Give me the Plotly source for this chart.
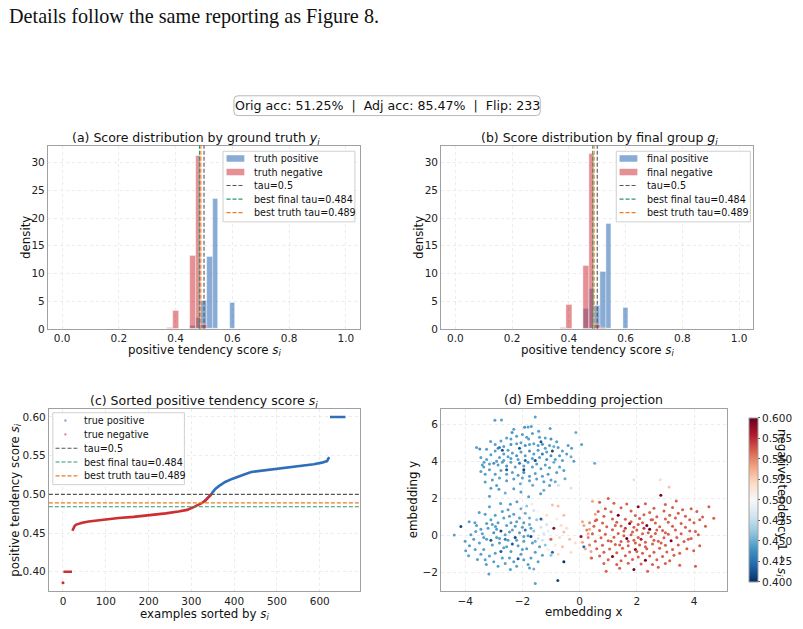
import plotly.graph_objects as go

W, H = 803, 629


def px(x):
    return x / W


def py(y):
    return 1 - y / H


# ------------------------------------------------------------------ data
header_text = "Details follow the same reporting as Figure 8."
summary_text = "Orig acc: 51.25%  |  Adj acc: 85.47%  |  Flip: 233"

hist_bin_width = 0.02
hist_centers = [0.38, 0.40, 0.46, 0.48, 0.50, 0.52, 0.54, 0.60]
truth_pos_density = [0.0, 0.0, 0.5, 2.0, 5.1, 13.0, 23.6, 4.7]
truth_neg_density = [0.15, 3.3, 13.3, 31.3, 0.8, 0.0, 0.0, 0.0]
final_pos_density = [0.0, 0.0, 3.6, 7.2, 4.2, 10.3, 19.1, 3.8]
final_neg_density = [0.2, 4.3, 11.5, 31.6, 0.7, 0.2, 0.0, 0.0]

tau_default = 0.5
tau_best_final = 0.484
tau_best_truth = 0.489

# sorted scores (panel c)
neg_point_idx = [0]
neg_point_s = [0.386]
neg_plateau_idx = [1, 21]
neg_plateau_s = [0.400, 0.400]
neg_curve_idx = [22, 24, 27, 31, 36, 45, 60, 80, 100, 130, 165, 200, 240, 270,
                 290, 303, 315, 325, 333, 340, 346]
neg_curve_s = [0.453, 0.456, 0.459, 0.461, 0.462, 0.4635, 0.465, 0.4665, 0.468,
               0.4695, 0.471, 0.473, 0.4755, 0.478, 0.480, 0.483, 0.486, 0.489,
               0.492, 0.496, 0.500]
pos_curve_idx = [330, 338, 345, 350, 356, 365, 379, 395, 410, 425, 440, 470, 500,
                 530, 560, 586, 605, 617, 622]
pos_curve_s = [0.491, 0.495, 0.499, 0.503, 0.507, 0.511, 0.516, 0.520, 0.5235,
               0.526, 0.529, 0.531, 0.533, 0.535, 0.537, 0.539, 0.541, 0.543, 0.548]
pos_plateau_idx = [624, 660]
pos_plateau_s = [0.600, 0.600]

# embedding projection (panel d): (x, y, negative tendency)
emb_upper = [
    (-2.96, 6.21, .445), (-2.73, 6.23, .445), (-1.55, 6.39, .445), (-1.69, 5.87, .445), (-1.92, 5.84, .44),
    (-1.80, 5.85, .445), (-2.30, 5.73, .445), (-2.36, 5.55, .44), (-1.43, 5.62, .445), (-0.13, 5.55, .45),
    (0.07, 4.91, .445), (-3.60, 4.75, .445), (-3.49, 4.66, .44), (-3.11, 5.07, .445), (-1.78, 5.20, .445),
    (-1.03, 5.77, .445), (-0.28, 4.70, .445), (0.53, 3.90, .45), (-0.51, 3.06, .45), (-0.74, 2.71, .48),
    (-0.30, 2.57, .48), (-3.34, 3.95, .445), (-3.30, 2.89, .445), (-3.15, 2.12, .445), (-2.82, 2.50, .445),
    (-2.30, 2.53, .445), (-2.07, 2.80, .45), (-1.64, 2.71, .45), (-1.36, 2.25, .445), (-1.78, 2.09, .445),
    (-2.85, 4.70, .44), (-2.80, 4.75, .43), (-2.65, 4.80, .445), (-2.50, 4.60, .445), (-2.40, 4.90, .44),
    (-2.20, 4.95, .445), (-2.05, 5.00, .445), (-1.90, 4.85, .44), (-1.75, 4.90, .445), (-1.60, 4.95, .445),
    (-1.45, 4.85, .445), (-1.30, 4.92, .44), (-1.20, 4.70, .445), (-1.05, 4.85, .445), (-0.90, 4.80, .45),
    (-0.75, 4.75, .445), (-0.60, 4.55, .445), (-0.45, 4.40, .445), (-0.30, 4.25, .45), (-0.60, 4.05, .445),
    (-0.85, 4.10, .445), (-1.00, 4.30, .44), (-1.15, 4.50, .445), (-1.30, 4.40, .43), (-1.45, 4.60, .445),
    (-1.60, 4.40, .445), (-1.75, 4.55, .44), (-1.90, 4.30, .445), (-2.05, 4.50, .445), (-2.20, 4.30, .44),
    (-2.35, 4.45, .445), (-2.50, 4.25, .445), (-2.65, 4.40, .445), (-2.80, 4.20, .445), (-2.95, 4.55, .445),
    (-3.10, 4.35, .445), (-3.25, 4.10, .445), (-3.00, 3.90, .44), (-2.85, 3.80, .445), (-2.70, 3.95, .445),
    (-2.55, 3.75, .44), (-2.40, 3.95, .445), (-2.25, 3.70, .445), (-2.10, 3.90, .43), (-1.95, 3.75, .445),
    (-1.80, 3.95, .445), (-1.65, 3.70, .445), (-1.50, 3.85, .445), (-1.35, 3.60, .445), (-1.20, 3.80, .445),
    (-1.05, 3.65, .445), (-0.90, 3.95, .45), (-0.70, 3.70, .445), (-0.55, 3.50, .445), (-0.80, 3.40, .445),
    (-1.10, 3.30, .445), (-1.30, 3.20, .445), (-1.55, 3.35, .445), (-1.75, 3.20, .445), (-1.95, 3.40, .44),
    (-2.15, 3.25, .445), (-2.35, 3.40, .445), (-2.55, 3.30, .445), (-2.75, 3.50, .445), (-2.95, 3.30, .445),
    (-3.15, 3.55, .445), (-3.35, 3.70, .445), (-3.30, 3.30, .445), (-3.05, 3.00, .445), (-2.80, 3.10, .445),
    (-2.55, 2.95, .445), (-2.30, 3.05, .445), (-2.00, 3.10, .445), (-1.75, 2.95, .445), (-1.50, 3.05, .445),
    (-1.25, 2.90, .445), (-1.00, 3.00, .445), (-1.15, 4.10, .44), (-1.40, 4.20, .445), (-1.65, 4.15, .445),
    (-1.90, 4.05, .42), (-2.15, 4.10, .445), (-2.40, 4.15, .445), (-2.65, 4.05, .445), (-2.90, 4.00, .445),
    (-3.15, 3.85, .445), (-2.55, 5.25, .445), (-2.40, 5.20, .445), (-2.20, 5.35, .445), (-2.00, 5.45, .445),
    (-1.85, 5.30, .445), (-1.65, 5.50, .445), (-1.40, 5.30, .445), (-1.20, 5.25, .445), (-1.00, 5.20, .44),
    (-0.80, 5.05, .445), (-2.75, 5.10, .445), (-2.95, 4.90, .445), (-3.25, 4.65, .445), (-3.45, 4.20, .445),
    (-3.40, 3.80, .445), (-3.45, 3.45, .445), (-2.70, 4.60, .415), (-2.10, 4.70, .415), (-1.35, 5.05, .415),
    (-0.95, 4.55, .41), (-1.95, 3.55, .41), (-2.55, 3.55, .415), (-1.55, 4.05, .41), (-0.70, 4.30, .445),
    (-0.40, 4.85, .445), (-0.20, 4.00, .445), (-1.05, 2.70, .445), (-2.90, 2.70, .445), (-3.10, 2.55, .445),
    (-2.60, 2.30, .45), (-2.05, 2.35, .445), (-1.25, 2.45, .45), (-0.85, 2.90, .45),
]
emb_lower = [
    (-4.38, 0.04, .445), (-4.15, 0.49, .41), (-3.86, 0.75, .445), (-3.66, 0.70, .445), (-3.98, -0.81, .445),
    (-3.88, -1.08, .445), (-3.57, -1.29, .445), (-3.17, -2.06, .445), (-3.26, -1.56, .445), (-2.42, -1.82, .445),
    (-1.55, -2.57, .445), (-3.51, 1.25, .445), (-3.30, 1.15, .445), (-2.76, 1.73, .445), (-2.42, 1.69, .445),
    (-2.19, 1.82, .445), (-1.67, 1.71, .49), (-3.63, 0.22, .445), (-2.94, 0.49, .445), (-1.75, -1.74, .445),
    (-3.50, -0.40, .445), (-3.40, 0.10, .445), (-3.35, -0.75, .445), (-3.25, -0.20, .445), (-3.20, 0.40, .445),
    (-3.15, -1.10, .445), (-3.10, 0.85, .445), (-3.05, -0.50, .445), (-3.00, 0.15, .44), (-2.95, -0.95, .445),
    (-2.90, -0.10, .445), (-2.85, 0.70, .445), (-2.80, -0.40, .445), (-2.75, 0.25, .41), (-2.70, -1.20, .445),
    (-2.65, -0.65, .445), (-2.60, 0.05, .445), (-2.55, 0.55, .445), (-2.50, -0.25, .445), (-2.45, 1.05, .445),
    (-2.40, -0.85, .445), (-2.35, 0.30, .445), (-2.30, -1.40, .445), (-2.25, -0.10, .41), (-2.20, 0.75, .445),
    (-2.15, -0.55, .445), (-2.10, 0.15, .445), (-2.05, -1.00, .445), (-2.00, 0.45, .445), (-1.95, -0.30, .445),
    (-1.90, 1.20, .45), (-1.85, -0.70, .445), (-1.80, 0.00, .445), (-1.75, 0.60, .45), (-1.70, -1.20, .445),
    (-1.65, -0.40, .445), (-1.60, 0.25, .46), (-1.55, -0.90, .445), (-1.50, 0.85, .46), (-1.45, -0.15, .48),
    (-1.40, -0.60, .445), (-1.35, 0.45, .48), (-1.30, -1.05, .445), (-1.25, 0.10, .48), (-3.70, -0.20, .445),
    (-3.60, 0.55, .445), (-3.45, -1.00, .445), (-3.30, -1.30, .445), (-3.00, -1.40, .445), (-2.85, -1.65, .445),
    (-2.60, -1.50, .445), (-2.45, -1.20, .445), (-2.20, -1.65, .445), (-1.95, -1.30, .445), (-1.80, -1.55, .445),
    (-1.60, -1.80, .45), (-2.70, 1.30, .445), (-2.95, 1.10, .445), (-3.15, 1.55, .445), (-2.50, 1.40, .445),
    (-2.30, 1.15, .445), (-2.05, 1.45, .45), (-1.85, 1.60, .46), (-1.60, 1.35, .48), (-2.65, 0.95, .445),
    (-2.40, 0.70, .445), (-2.10, 0.95, .445), (-1.95, 0.70, .445), (-3.25, 0.65, .445), (-3.45, 0.35, .445),
    (-3.80, 0.05, .445), (-4.00, -0.30, .445), (-3.85, -0.55, .445), (-3.65, -0.75, .445), (-2.75, -0.85, .415),
    (-2.35, -0.45, .415), (-1.90, 0.30, .43), (-2.60, -0.20, .43), (-3.10, -0.25, .415), (-2.15, -1.25, .415),
    (-1.70, -0.05, .41), (-1.45, -1.40, .445), (-1.20, -0.50, .46), (-1.15, 0.60, .48), (-1.05, -0.20, .49),
    (-1.00, -1.05, .46), (-2.90, 0.35, .445), (-2.55, -0.60, .445), (-2.25, 0.50, .445), (-2.00, -0.75, .445),
    (-1.75, 0.95, .45), (-3.35, -0.10, .445), (-3.05, 0.60, .445), (-2.80, -0.15, .445), (-2.45, 0.20, .445),
    (-2.20, -0.25, .445), (-1.95, -0.05, .445), (-1.70, 0.40, .445), (-1.55, -0.30, .45), (-1.30, -0.25, .48),
    (-1.10, 0.25, .49),
]
emb_mixed = [
    (-1.45, 1.30, .50), (-1.30, 0.85, .51), (-1.15, 1.10, .52), (-1.00, 0.70, .50), (-0.95, 1.65, .53),
    (-0.75, 1.60, .53), (-0.55, 1.10, .53), (-0.45, 0.40, .52), (-0.35, -0.20, .53), (-0.80, 0.90, .51),
    (-0.90, 0.40, .59), (-0.70, -0.10, .52), (-0.60, -0.60, .53), (-0.85, -0.50, .51), (-0.75, -1.00, .52),
    (-0.55, -1.40, .40), (-0.95, -0.90, .42), (-1.35, 0.90, .42), (-1.00, -0.20, .56), (-0.30, -0.90, .52),
    (-0.15, -0.40, .52), (0.05, -0.05, .59), (0.15, -0.60, .42), (0.10, 0.75, .54), (0.30, 0.10, .54),
    (0.40, -1.20, .54), (0.45, 1.85, .54), (-0.55, 0.20, .53), (-1.10, -0.75, .51), (-0.65, 0.55, .52),
    (-0.76, -2.41, .41),
]
emb_red = [
    (4.52, 1.55, .56), (4.69, 0.93, .56), (4.05, 0.22, .56), (3.99, -0.81, .56), (4.05, -1.65, .56),
    (2.82, 3.01, .52), (1.78, 3.99, .51), (1.90, 3.01, .52), (3.13, 2.62, .53), (2.84, 2.17, .595),
    (3.38, 1.87, .56), (1.00, 2.00, .56), (0.93, -1.91, .56), (1.90, -1.82, .595), (2.38, -1.91, .56),
    (0.42, -1.20, .56), (3.60, 1.40, .56), (4.10, 1.30, .56), (4.20, 0.85, .56), (3.80, -0.20, .56),
    (3.50, -1.60, .56), (2.75, -1.70, .56), (1.40, -1.75, .56), (0.70, 1.80, .56), (0.55, 0.80, .56),
    (0.35, 0.35, .54),
    (1.20, 1.75, .56), (1.65, 1.70, .56), (2.30, 1.72, .56), (3.00, 1.68, .56),
    (0.90, 1.45, .56), (1.45, 1.50, .56), (2.05, 1.55, .59), (2.60, 1.48, .56), (3.25, 1.52, .56), (3.90, 1.45, .56),
    (0.65, 1.30, .56), (1.10, 1.28, .56), (1.80, 1.32, .56), (2.45, 1.25, .56), (2.95, 1.33, .56), (3.45, 1.20, .56),
    (0.85, 1.05, .56), (1.35, 1.10, .60), (1.95, 1.08, .56), (2.25, 1.12, .56), (2.70, 1.02, .56), (3.15, 1.10, .56),
    (3.70, 1.05, .56), (4.30, 1.00, .56),
    (0.60, 0.85, .56), (1.15, 0.90, .56), (1.60, 0.88, .56), (2.10, 0.92, .56), (2.55, 0.85, .56), (3.00, 0.90, .56),
    (3.35, 0.95, .56), (3.85, 0.85, .56),
    (0.35, 0.70, .55), (0.80, 0.68, .56), (1.30, 0.72, .56), (1.75, 0.65, .595), (2.20, 0.70, .56), (2.65, 0.68, .56),
    (3.10, 0.72, .56), (3.55, 0.65, .56), (4.00, 0.70, .56),
    (0.50, 0.50, .56), (0.95, 0.48, .56), (1.45, 0.52, .56), (1.90, 0.45, .56), (2.35, 0.55, .595), (2.80, 0.48, .56),
    (3.25, 0.50, .56), (3.70, 0.45, .56), (4.40, 0.50, .56),
    (0.25, 0.30, .55), (0.70, 0.28, .56), (1.15, 0.32, .56), (1.55, 0.25, .56), (2.00, 0.30, .56), (2.45, 0.35, .60),
    (2.90, 0.28, .56), (3.35, 0.30, .56), (3.85, 0.25, .56),
    (0.45, 0.10, .56), (0.90, 0.08, .56), (1.35, 0.12, .56), (1.80, 0.05, .56), (2.20, 0.10, .56), (2.65, 0.12, .56),
    (3.10, 0.08, .56), (3.55, 0.10, .56), (4.15, 0.05, .56),
    (0.30, -0.10, .55), (0.75, -0.12, .56), (1.20, -0.08, .56), (1.65, -0.15, .60), (2.05, -0.10, .56),
    (2.50, -0.05, .56), (2.95, -0.12, .56), (3.40, -0.10, .56), (3.90, -0.15, .56),
    (0.55, -0.30, .56), (1.00, -0.28, .56), (1.45, -0.32, .56), (1.90, -0.25, .56), (2.30, -0.35, .56),
    (2.75, -0.30, .56), (3.20, -0.28, .595), (3.65, -0.32, .56),
    (0.35, -0.50, .55), (0.80, -0.52, .56), (1.25, -0.48, .56), (1.70, -0.55, .56), (2.10, -0.50, .56),
    (2.55, -0.45, .56), (3.00, -0.52, .56), (3.45, -0.50, .56), (4.20, -0.55, .56),
    (0.60, -0.70, .56), (1.05, -0.72, .56), (1.50, -0.68, .56), (1.95, -0.75, .59), (2.35, -0.70, .56),
    (2.80, -0.68, .56), (3.25, -0.75, .56), (3.75, -0.70, .56),
    (0.85, -0.90, .56), (1.30, -0.92, .56), (1.75, -0.88, .56), (2.20, -0.95, .56), (2.60, -0.90, .56),
    (3.05, -0.88, .56), (3.50, -0.95, .56),
    (0.70, -1.10, .56), (1.15, -1.12, .595), (1.60, -1.08, .56), (2.05, -1.15, .56), (2.45, -1.10, .56),
    (2.90, -1.12, .56), (3.30, -1.05, .56),
    (1.00, -1.30, .56), (1.45, -1.35, .56), (1.85, -1.28, .56), (2.30, -1.32, .595), (2.70, -1.30, .56),
    (3.15, -1.35, .56),
    (0.85, -1.50, .56), (1.30, -1.55, .56), (1.70, -1.48, .56), (2.15, -1.52, .56), (2.55, -1.55, .56),
    (3.00, -1.50, .56),
    (1.60, 0.40, .57), (1.85, 0.20, .56), (2.15, -0.20, .58), (2.40, 0.15, .56), (1.95, -0.40, .56),
    (2.25, 0.40, .57), (1.70, -0.30, .56), (2.60, -0.25, .56), (2.05, 0.60, .56), (1.40, -0.50, .56),
    (2.70, 0.30, .56), (1.55, 0.00, .56), (2.30, -0.60, .56), (1.80, 0.75, .56), (2.50, 0.85, .56),
    (1.25, 0.55, .56), (2.85, -0.40, .56), (1.10, -0.30, .56), (3.00, 0.15, .56), (2.00, -0.85, .56),
    (0.15, 0.55, .54), (0.20, -0.70, .54), (0.10, -0.35, .54), (0.55, 1.15, .54), (0.40, -0.85, .54),
]

cbar_ticks = [0.400, 0.425, 0.450, 0.475, 0.500, 0.525, 0.550, 0.575, 0.600]

# ------------------------------------------------------------------ styles
FONT = "DejaVu Sans"
BLUE_BAR = "rgba(38,104,178,0.55)"
RED_BAR = "rgba(206,52,62,0.55)"
BLUE_PT = "#2f6eb8"
RED_PT = "#cc2f2f"
GRAY_L = "#555555"
GREEN_L = "#2a9a68"
ORANGE_L = "#f07a1c"
DASH = "4px,2px"
RDBU_R = [
    [0.0, "#053061"], [0.1, "#2166ac"], [0.2, "#4393c3"], [0.3, "#92c5de"],
    [0.4, "#d1e5f0"], [0.5, "#f7f7f7"], [0.6, "#fddbc7"], [0.7, "#f4a582"],
    [0.8, "#d6604d"], [0.9, "#b2182b"], [1.0, "#67001f"],
]

fig = go.Figure()

# ------------------------------------------------------------------ panels a, b
for (pos, neg, xa, ya) in [(truth_pos_density, truth_neg_density, "x", "y"),
                           (final_pos_density, final_neg_density, "x2", "y2")]:
    fig.add_trace(go.Bar(x=hist_centers, y=pos, width=hist_bin_width,
                         marker=dict(color=BLUE_BAR, line=dict(color="white", width=0.4)),
                         xaxis=xa, yaxis=ya, showlegend=False))
    fig.add_trace(go.Bar(x=hist_centers, y=neg, width=hist_bin_width,
                         marker=dict(color=RED_BAR, line=dict(color="white", width=0.4)),
                         xaxis=xa, yaxis=ya, showlegend=False))

shapes = []
for xa in ["x", "x2"]:
    for tau, col in [(tau_default, GRAY_L), (tau_best_final, GREEN_L), (tau_best_truth, ORANGE_L)]:
        shapes.append(dict(type="line", xref=xa, yref=xa.replace("x", "y") + " domain",
                           x0=tau, x1=tau, y0=0, y1=1,
                           line=dict(color=col, width=1.1, dash=DASH)))

# ------------------------------------------------------------------ panel c
for tau, col in [(tau_default, GRAY_L), (tau_best_final, GREEN_L), (tau_best_truth, ORANGE_L)]:
    shapes.append(dict(type="line", xref="x3 domain", yref="y3", x0=0, x1=1, y0=tau, y1=tau,
                       line=dict(color=col, width=1.1, dash=DASH)))

fig.add_trace(go.Scatter(x=neg_point_idx, y=neg_point_s, mode="markers",
                         marker=dict(color=RED_PT, size=3), xaxis="x3", yaxis="y3", showlegend=False))
for xs, ys, col in [(neg_plateau_idx, neg_plateau_s, RED_PT), (pos_curve_idx, pos_curve_s, BLUE_PT),
                    (neg_curve_idx, neg_curve_s, RED_PT), (pos_plateau_idx, pos_plateau_s, BLUE_PT)]:
    fig.add_trace(go.Scatter(x=xs, y=ys, mode="lines", line=dict(color=col, width=2.6),
                             xaxis="x3", yaxis="y3", showlegend=False))

# ------------------------------------------------------------------ panel d
emb_all = emb_upper + emb_lower + emb_mixed + emb_red
fig.add_trace(go.Scatter(
    x=[p[0] for p in emb_all], y=[p[1] for p in emb_all], mode="markers",
    marker=dict(size=3.0, color=[p[2] for p in emb_all], colorscale=RDBU_R, cmin=0.4, cmax=0.6,
                opacity=1.0, line=dict(width=0),
                colorbar=dict(thickness=9, thicknessmode="pixels", len=184, lenmode="pixels",
                              x=px(745), xanchor="left", y=py(504.7), yanchor="middle",
                              outlinecolor="#a0a0a0", outlinewidth=1,
                              tickvals=cbar_ticks, tickformat=".3f", ticks="outside", ticklen=2,
                              tickcolor="#555", tickfont=dict(size=10.5, color="#222", family=FONT))),
    xaxis="x4", yaxis="y4", showlegend=False))

# ------------------------------------------------------------------ axes
axis_common = dict(showline=True, mirror=True, linecolor="#a0a0a0", linewidth=1,
                   showgrid=True, gridcolor="#ececec", griddash="dot", gridwidth=0.8,
                   ticks="", zeroline=False,
                   tickfont=dict(size=10.5, color="#222", family=FONT))

A_X, A_Y = [48.3, 363.3], [147, 332]
B_X = [445, 760]
C_X, C_Y = [49.3, 362.7], [412.7, 596.7]
D_X = [445, 733.3]


def dom_x(p):
    return [px(p[0]), px(p[1])]


def dom_y(p):
    return [py(p[1]), py(p[0])]


layout = dict(
    width=W, height=H, margin=dict(l=0, r=0, t=0, b=0),
    paper_bgcolor="white", plot_bgcolor="white", barmode="overlay", bargap=0,
    font=dict(family=FONT, color="#222"), showlegend=False,
    xaxis=dict(domain=dom_x(A_X), anchor="y", range=[-0.05, 1.05], tickvals=[0, .2, .4, .6, .8, 1],
               tickformat=".1f", **axis_common),
    yaxis=dict(domain=dom_y(A_Y), anchor="x", range=[0, 33.1], tickvals=[0, 5, 10, 15, 20, 25, 30],
               **axis_common),
    xaxis2=dict(domain=dom_x(B_X), anchor="y2", range=[-0.05, 1.05], tickvals=[0, .2, .4, .6, .8, 1],
                tickformat=".1f", **axis_common),
    yaxis2=dict(domain=dom_y(A_Y), anchor="x2", range=[0, 33.1], tickvals=[0, 5, 10, 15, 20, 25, 30],
                **axis_common),
    xaxis3=dict(domain=dom_x(C_X), anchor="y3", range=[-33, 693], tickvals=[0, 100, 200, 300, 400, 500, 600],
                **axis_common),
    yaxis3=dict(domain=dom_y(C_Y), anchor="x3", range=[0.3752, 0.6106],
                tickvals=[0.40, 0.45, 0.50, 0.55, 0.60], tickformat=".2f", **axis_common),
    xaxis4=dict(domain=dom_x(D_X), anchor="y4", range=[-4.84, 5.15], tickvals=[-4, -2, 0, 2, 4],
                **axis_common),
    yaxis4=dict(domain=dom_y(C_Y), anchor="x4", range=[-2.98, 6.83], tickvals=[-2, 0, 2, 4, 6],
                **axis_common),
)

# ------------------------------------------------------------------ text
ann = []


def text(x, y, s, size, xanchor="center", yanchor="middle", angle=0, family=FONT, **kw):
    ann.append(dict(x=px(x), y=py(y), xref="paper", yref="paper", text=s, showarrow=False,
                    xanchor=xanchor, yanchor=yanchor, textangle=angle,
                    font=dict(size=size, family=family, color="#111"), **kw))


def rounded_box(x0, y0, x1, y1, r):
    rx, ry = r / W, r / H
    X0, X1, Y0, Y1 = px(x0), px(x1), py(y1), py(y0)
    path = (f"M {X0 + rx},{Y0} L {X1 - rx},{Y0} Q {X1},{Y0} {X1},{Y0 + ry} "
            f"L {X1},{Y1 - ry} Q {X1},{Y1} {X1 - rx},{Y1} L {X0 + rx},{Y1} "
            f"Q {X0},{Y1} {X0},{Y1 - ry} L {X0},{Y0 + ry} Q {X0},{Y0} {X0 + rx},{Y0} Z")
    return dict(type="path", xref="paper", yref="paper", path=path, fillcolor="white",
                line=dict(color="#b8b8b8", width=1), layer="above")


text(7, 16.5, header_text, 20.2, xanchor="left", family="Liberation Serif")
shapes.append(rounded_box(236, 96.7, 545, 116.7, 4))
text(391, 106.7, summary_text, 12.6)

si = "<i>s</i><sub><i>i</i></sub>"
text(198, 140, "(a) Score distribution by ground truth <i>y</i><sub><i>i</i></sub>", 12.5)
text(605, 140, "(b) Score distribution by final group <i>g</i><sub><i>i</i></sub>", 12.5)
text(206, 405, "(c) Sorted positive tendency score " + si, 12.5)
text(589, 403, "(d) Embedding projection", 12.5)

text(205.8, 354, "positive tendency score " + si, 11.8)
text(602.5, 354, "positive tendency score " + si, 11.8)
text(26, 239.5, "density", 11.8, angle=-90)
text(422.5, 239.5, "density", 11.8, angle=-90)
text(206, 620, "examples sorted by " + si, 11.8)
text(16, 504.7, "positive tendency score " + si, 11.8, angle=-90)
text(589, 618, "embedding x", 11.8)
text(417, 504.7, "embedding y", 11.8, angle=-90)
text(789, 508, "negative tendency 1 − " + si, 11.8, angle=90)


# ------------------------------------------------------------------ legends (drawn)
def legend(box, hx0, hx1, tx, rows, entries):
    shapes.append(dict(type="rect", xref="paper", yref="paper", x0=px(box[0]), x1=px(box[2]),
                       y0=py(box[3]), y1=py(box[1]), fillcolor="rgba(255,255,255,0.85)",
                       line=dict(color="#d0d0d0", width=1), layer="above"))
    for ry, (kind, col, label) in zip(rows, entries):
        if kind == "patch":
            shapes.append(dict(type="rect", xref="paper", yref="paper", x0=px(hx0), x1=px(hx1),
                               y0=py(ry + 3.3), y1=py(ry - 3.3), fillcolor=col, line=dict(width=0),
                               layer="above"))
        elif kind == "dash":
            shapes.append(dict(type="line", xref="paper", yref="paper", x0=px(hx0), x1=px(hx1),
                               y0=py(ry), y1=py(ry), line=dict(color=col, width=1.1, dash=DASH),
                               layer="above"))
        else:
            cx = (hx0 + hx1) / 2 - 1
            shapes.append(dict(type="circle", xref="paper", yref="paper", x0=px(cx - 1.2), x1=px(cx + 1.2),
                               y0=py(ry + 1.2), y1=py(ry - 1.2), fillcolor=col, line=dict(width=0),
                               opacity=0.6, layer="above"))
        text(tx, ry, label, 9.6, xanchor="left")


rows_ab = [160, 173.7, 187.3, 201, 214.7]
legend((225, 152.7, 358, 224), 228.5, 246.5, 254, rows_ab,
       [("patch", BLUE_BAR, "truth positive"), ("patch", RED_BAR, "truth negative"),
        ("dash", GRAY_L, "tau=0.5"), ("dash", GREEN_L, "best final tau=0.484"),
        ("dash", ORANGE_L, "best truth tau=0.489")])
legend((621.7, 152.7, 757, 224), 625, 643, 650.5, rows_ab,
       [("patch", BLUE_BAR, "final positive"), ("patch", RED_BAR, "final negative"),
        ("dash", GRAY_L, "tau=0.5"), ("dash", GREEN_L, "best final tau=0.484"),
        ("dash", ORANGE_L, "best truth tau=0.489")])
legend((53.3, 416.7, 186, 489.3), 56, 78, 82.5, [424.5, 438.5, 452.5, 466.5, 480.5],
       [("dot", BLUE_PT, "true positive"), ("dot", RED_PT, "true negative"),
        ("dash", GRAY_L, "tau=0.5"), ("dash", GREEN_L, "best final tau=0.484"),
        ("dash", ORANGE_L, "best truth tau=0.489")])

layout["shapes"] = shapes
layout["annotations"] = ann
fig.update_layout(**layout)
fig.write_html("out.html")
